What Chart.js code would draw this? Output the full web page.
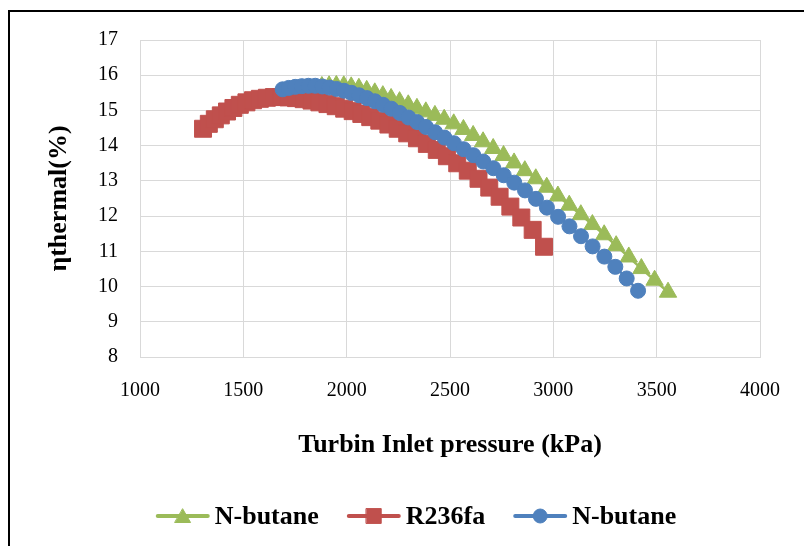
<!DOCTYPE html>
<html>
<head>
<meta charset="utf-8">
<script src="https://cdn.jsdelivr.net/npm/chart.js@4.4.1/dist/chart.umd.min.js"></script>
<style>
html,body{margin:0;padding:0;background:#fff;}
canvas{display:block;}
</style>
</head>
<body>
<canvas id="c" width="804" height="546"></canvas>
<script>
// ---- data ----
const xTicks = [1000, 1500, 2000, 2500, 3000, 3500, 4000];
const yTicks = [8, 9, 10, 11, 12, 13, 14, 15, 16, 17];
const seriesNames = ['N-butane', 'R236fa', 'N-butane'];

const butaneTriP   = [1880,1915,1950,1986,2022,2059,2097,2136,2175,2215,2256,2298,2340,2383,2427,2472,2518,2565,2612,2660,2709,2759,2810,2862,2915,2968,3022,3077,3133,3189,3246,3304,3365,3426,3490,3555];
const butaneTriEta = [15.68,15.70,15.71,15.70,15.67,15.63,15.57,15.50,15.42,15.34,15.25,15.16,15.06,14.96,14.86,14.75,14.62,14.46,14.29,14.11,13.92,13.72,13.51,13.29,13.06,12.82,12.57,12.31,12.04,11.76,11.47,11.16,10.84,10.51,10.18,9.84];

const r236faP   = [1305,1333,1362,1391,1421,1452,1483,1515,1547,1580,1614,1648,1683,1719,1755,1792,1830,1868,1907,1947,1988,2029,2071,2114,2158,2202,2247,2293,2340,2388,2436,2485,2535,2586,2638,2690,2740,2792,2845,2900,2955];
const r236faEta = [14.48,14.62,14.75,14.86,14.97,15.07,15.16,15.23,15.29,15.33,15.36,15.38,15.38,15.37,15.35,15.32,15.28,15.23,15.18,15.12,15.05,14.98,14.90,14.81,14.71,14.60,14.48,14.35,14.21,14.05,13.88,13.70,13.50,13.29,13.06,12.81,12.55,12.27,11.96,11.61,11.13];

const butaneCirP   = [1690,1720,1751,1783,1815,1848,1882,1916,1951,1987,2023,2060,2098,2137,2176,2216,2257,2299,2341,2384,2428,2473,2519,2566,2613,2661,2710,2760,2811,2863,2916,2969,3023,3078,3134,3190,3247,3300,3355,3410];
const butaneCirEta = [15.60,15.64,15.67,15.69,15.70,15.70,15.68,15.65,15.61,15.56,15.50,15.43,15.35,15.26,15.16,15.05,14.93,14.80,14.67,14.53,14.38,14.23,14.07,13.90,13.73,13.55,13.36,13.16,12.95,12.73,12.49,12.24,11.98,11.71,11.43,11.14,10.85,10.56,10.23,9.88];

// ---- build ----
const toPts = (xs, ys) => xs.map((x, i) => ({x: x, y: ys[i]}));
const GREEN = '#9BBB59', RED = '#C0504D', BLUE = '#4F81BD';
const FONT = '"Liberation Serif", "Times New Roman", serif';

const borderPlugin = {
  id: 'frame',
  beforeDraw(chart) {
    const ctx = chart.ctx;
    ctx.save();
    ctx.fillStyle = '#fff';
    ctx.fillRect(0, 0, chart.width, chart.height);
    ctx.strokeStyle = '#000';
    ctx.lineWidth = 2;
    ctx.strokeRect(9, 11, chart.width + 20, chart.height + 20);
    ctx.restore();
  }
};

const legendRadius = {triangle: 9, rect: 10.5, circle: 7};
const legendPlugin = {
  id: 'lineLegend',
  afterDraw(chart) {
    const ctx = chart.ctx;
    ctx.save();
    ctx.font = 'bold 26px ' + FONT;
    ctx.textBaseline = 'middle';
    ctx.textAlign = 'left';
    const lineLen = 54, gapText = 5, gapItem = 28;
    const items = chart.data.datasets.map(ds => ({ds: ds, w: ctx.measureText(ds.label).width}));
    const total = items.reduce((a, it) => a + lineLen + gapText + it.w, 0) + gapItem * (items.length - 1);
    let x = 416 - total / 2;
    const y = 516;
    items.forEach(it => {
      ctx.strokeStyle = it.ds.borderColor;
      ctx.lineWidth = 4;
      ctx.lineCap = 'round';
      ctx.beginPath();
      ctx.moveTo(x + 2, y);
      ctx.lineTo(x + lineLen - 2, y);
      ctx.stroke();
      ctx.fillStyle = it.ds.pointBackgroundColor;
      ctx.strokeStyle = it.ds.pointBorderColor;
      ctx.lineWidth = 1;
      Chart.helpers.drawPoint(ctx, {pointStyle: it.ds.pointStyle, radius: legendRadius[it.ds.pointStyle], rotation: 0, borderWidth: 1}, x + lineLen / 2, y + (it.ds.pointStyle === 'triangle' ? 2 : 0));
      ctx.fillStyle = '#000';
      ctx.fillText(it.ds.label, x + lineLen + gapText, y + 1);
      x += lineLen + gapText + it.w + gapItem;
    });
    ctx.restore();
  }
};

const mk = (label, pts, color, style, radius, order) => ({
  label: label,
  data: pts,
  showLine: true,
  borderColor: color,
  backgroundColor: color,
  borderWidth: 2.5,
  pointStyle: style,
  pointRadius: radius,
  pointHoverRadius: radius,
  pointBackgroundColor: color,
  pointBorderColor: color,
  pointBorderWidth: 1,
  order: order
});

new Chart(document.getElementById('c'), {
  type: 'scatter',
  data: {
    datasets: [
      mk(seriesNames[0], toPts(butaneTriP, butaneTriEta), GREEN, 'triangle', 10, 3),
      mk(seriesNames[1], toPts(r236faP, r236faEta), RED, 'rect', 12, 2),
      mk(seriesNames[2], toPts(butaneCirP, butaneCirEta), BLUE, 'circle', 7.5, 1)
    ]
  },
  options: {
    responsive: false,
    animation: false,
    devicePixelRatio: 1,
    layout: {padding: {left: 8, right: 44, top: 40, bottom: 69}},
    plugins: {legend: {display: false}, tooltip: {enabled: false}},
    scales: {
      x: {
        type: 'linear',
        min: xTicks[0], max: xTicks[xTicks.length - 1],
        afterBuildTicks: s => { s.ticks = xTicks.map(v => ({value: v})); },
        afterFit: s => { s.height = 120; },
        ticks: {color: '#000', padding: 22, font: {family: FONT, size: 20}, callback: v => String(v)},
        grid: {color: '#D9D9D9', lineWidth: 1, drawTicks: false},
        border: {color: '#D9D9D9'},
        title: {display: true, text: 'Turbin Inlet pressure (kPa)', color: '#000', font: {family: FONT, size: 26, weight: 'bold'}, padding: {top: 0, bottom: 16}}
      },
      y: {
        type: 'linear',
        min: yTicks[0], max: yTicks[yTicks.length - 1],
        afterBuildTicks: s => { s.ticks = yTicks.map(v => ({value: v})); },
        afterFit: s => { s.width = 132; },
        ticks: {color: '#000', padding: 22, font: {family: FONT, size: 20}, callback: v => String(v)},
        grid: {color: '#D9D9D9', lineWidth: 1, drawTicks: false},
        border: {color: '#D9D9D9'},
        title: {display: true, text: 'ηthermal(%)', color: '#000', font: {family: FONT, size: 26, weight: 'bold'}, padding: {top: 36, bottom: 0}}
      }
    }
  },
  plugins: [borderPlugin, legendPlugin]
});
</script>
</body>
</html>
